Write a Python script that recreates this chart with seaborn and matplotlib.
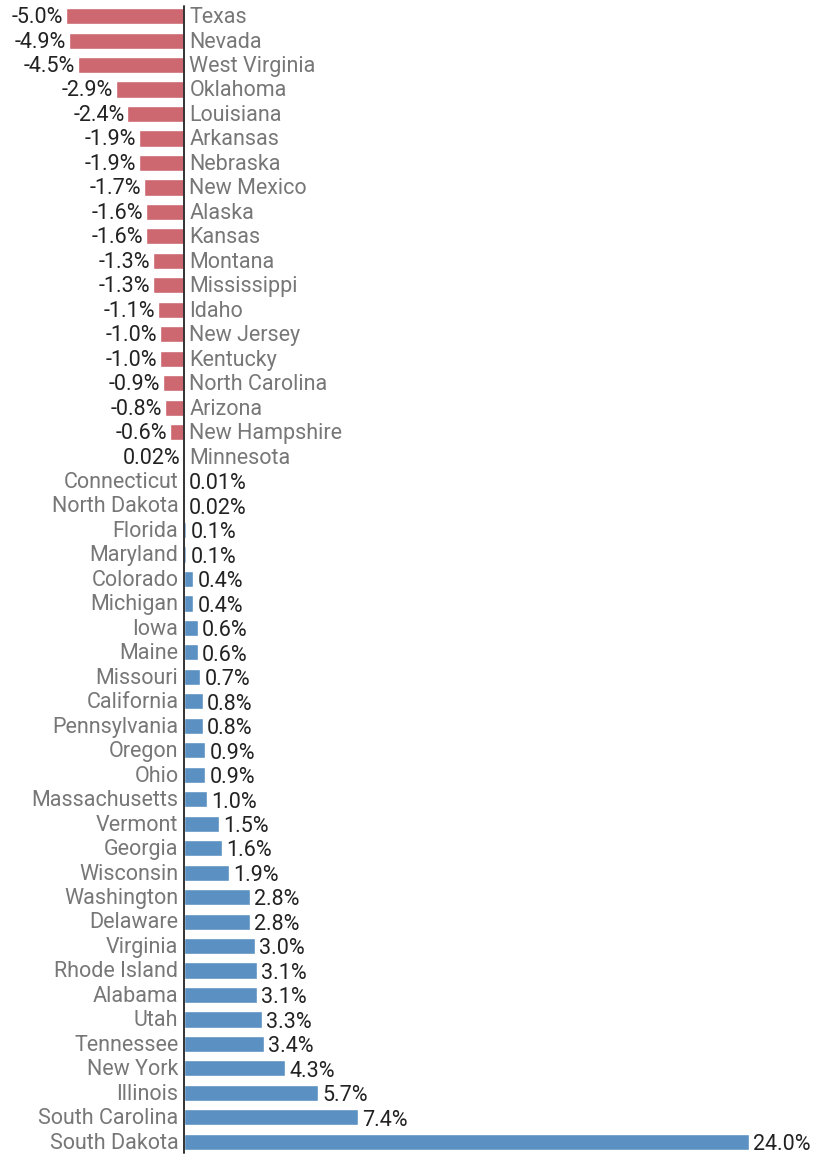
import matplotlib
matplotlib.use("Agg")
import matplotlib.pyplot as plt
from matplotlib import font_manager
import pandas as pd
import seaborn as sns

states = ["Texas", "Nevada", "West Virginia", "Oklahoma", "Louisiana", "Arkansas",
          "Nebraska", "New Mexico", "Alaska", "Kansas", "Montana", "Mississippi",
          "Idaho", "New Jersey", "Kentucky", "North Carolina", "Arizona",
          "New Hampshire", "Minnesota", "Connecticut", "North Dakota", "Florida",
          "Maryland", "Colorado", "Michigan", "Iowa", "Maine", "Missouri",
          "California", "Pennsylvania", "Oregon", "Ohio", "Massachusetts",
          "Vermont", "Georgia", "Wisconsin", "Washington", "Delaware", "Virginia",
          "Rhode Island", "Alabama", "Utah", "Tennessee", "New York", "Illinois",
          "South Carolina", "South Dakota"]
changes = [-5.0, -4.9, -4.5, -2.9, -2.4, -1.9, -1.9, -1.7, -1.6, -1.6, -1.3, -1.3,
           -1.1, -1.0, -1.0, -0.9, -0.8, -0.6, -0.02, 0.01, 0.02, 0.1, 0.1, 0.4,
           0.4, 0.6, 0.6, 0.7, 0.8, 0.8, 0.9, 0.9, 1.0, 1.5, 1.6, 1.9, 2.8, 2.8,
           3.0, 3.1, 3.1, 3.3, 3.4, 4.3, 5.7, 7.4, 24.0]
value_labels = ["-5.0%", "-4.9%", "-4.5%", "-2.9%", "-2.4%", "-1.9%", "-1.9%",
                "-1.7%", "-1.6%", "-1.6%", "-1.3%", "-1.3%", "-1.1%", "-1.0%",
                "-1.0%", "-0.9%", "-0.8%", "-0.6%", "0.02%", "0.01%", "0.02%",
                "0.1%", "0.1%", "0.4%", "0.4%", "0.6%", "0.6%", "0.7%", "0.8%",
                "0.8%", "0.9%", "0.9%", "1.0%", "1.5%", "1.6%", "1.9%", "2.8%",
                "2.8%", "3.0%", "3.1%", "3.1%", "3.3%", "3.4%", "4.3%", "5.7%",
                "7.4%", "24.0%"]

RED = "#cd6770"
BLUE = "#5a91c2"

sns.set_theme(style="white")
names = {f.name for f in font_manager.fontManager.ttflist}
family = ["Liberation Sans Narrow", "DejaVu Sans"] if "Liberation Sans Narrow" in names \
    else ["Roboto", "DejaVu Sans"]
plt.rcParams["font.family"] = family

df = pd.DataFrame({"State": states, "Change": changes,
                   "Sign": ["neg" if v < 0 else "pos" for v in changes]})

fig = plt.figure(figsize=(8.17, 11.57), dpi=100)
ax = fig.add_axes([0, 0, 1, 1])
sns.barplot(data=df, y="State", x="Change", hue="Sign",
            palette={"neg": RED, "pos": BLUE}, orient="h", dodge=False,
            legend=False, width=0.66, saturation=1, ax=ax)

ax.set_xlim(-7.81, 26.88)
ax.set_ylim(46.62, -0.66)
ax.axis("off")
ax.plot([0, 0], [-0.41, 46.45], color="#333333", lw=1.4, zorder=5)

fs = 15.5
for i, (v, lab, st) in enumerate(zip(changes, value_labels, states)):
    if v < 0:
        ax.annotate(lab, (v, i), xytext=(-2, -1), textcoords="offset points",
                    ha="right", va="center", fontsize=fs, color="#222222")
        ax.annotate(st, (0, i), xytext=(4, -1), textcoords="offset points",
                    ha="left", va="center", fontsize=fs, color="#777777")
    else:
        ax.annotate(lab, (v, i), xytext=(3, -2), textcoords="offset points",
                    ha="left", va="center", fontsize=fs, color="#222222")
        ax.annotate(st, (0, i), xytext=(-4, -1), textcoords="offset points",
                    ha="right", va="center", fontsize=fs, color="#777777")

fig.savefig("out.png", dpi=100)
